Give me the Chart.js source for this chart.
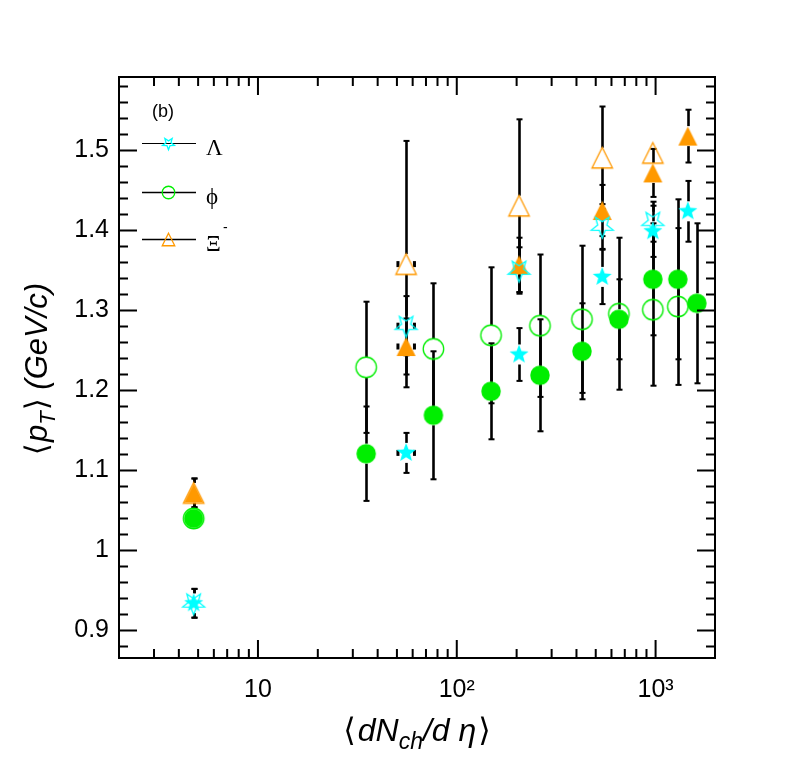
<!DOCTYPE html>
<html>
<head>
<meta charset="utf-8">
<script src="https://cdn.jsdelivr.net/npm/chart.js@4.4.0/dist/chart.umd.min.js"></script>
<style>html,body{margin:0;padding:0;background:#fff;}</style>
</head>
<body>
<canvas id="ptChart" width="796" height="774"></canvas>
<script>
// <pT> vs <dNch/deta>, open = legend species, filled = second set
const lambdaOpenX    = [4.75, 55.6, 205.6, 539, 969];
const lambdaOpenY    = [0.934, 1.281, 1.350, 1.405, 1.411];
const lambdaOpenErr  = [0.018, 0.037, 0.029, 0.028, 0.025];
const lambdaOpenXErr = [0, 5.3, 0, 0, 0];

const lambdaX    = [4.75, 55.6, 205.6, 539, 969, 1453];
const lambdaY    = [0.934, 1.122, 1.245, 1.342, 1.399, 1.424];
const lambdaErr  = [0.018, 0.025, 0.033, 0.034, 0.032, 0.038];
const lambdaXErr = [0, 5.3, 0, 0, 0, 0];

const phiOpenX   = [4.75, 35.0, 76.3, 148.7, 262.1, 426.3, 654, 969, 1294];
const phiOpenY   = [1.040, 1.229, 1.252, 1.269, 1.281, 1.289, 1.296, 1.301, 1.305];
const phiOpenErr = [0.008, 0.082, 0.082, 0.085, 0.089, 0.092, 0.095, 0.095, 0.098];

const phiX   = [4.75, 35.0, 76.3, 148.7, 262.1, 426.3, 654, 969, 1294, 1613];
const phiY   = [1.040, 1.121, 1.169, 1.199, 1.219, 1.249, 1.289, 1.339, 1.339, 1.309];
const phiErr = [0.008, 0.059, 0.080, 0.060, 0.070, 0.060, 0.050, 0.070, 0.100, 0.100];

const xiOpenX    = [4.75, 55.6, 205.6, 539, 969];
const xiOpenY    = [1.072, 1.358, 1.431, 1.491, 1.497];
const xiOpenErr  = [0.018, 0.154, 0.108, 0.064, 0.008];
const xiOpenXErr = [0, 5.3, 0, 0, 0];

const xiX    = [4.75, 55.6, 205.6, 539, 969, 1453];
const xiY    = [1.072, 1.255, 1.357, 1.425, 1.472, 1.518];
const xiErr  = [0.018, 0.035, 0.034, 0.032, 0.030, 0.033];
const xiXErr = [0, 5.3, 0, 0, 0, 0];

const yTicks = [0.9, 1.0, 1.1, 1.2, 1.3, 1.4, 1.5];
const xTicks = [10, 100, 1000];
const xTickLabels = ['10', '10\u00b2', '10\u00b3'];

const CYAN = '#00ffff', GREEN = '#00ee00', ORANGE = '#ff9900';
const SANS = '"Liberation Sans", Arial, sans-serif';
const SERIF = '"Liberation Serif", "DejaVu Serif", serif';

function tracePath(g, shape, cx, cy, s) {
  g.beginPath();
  if (shape === 'circle') {
    g.arc(cx, cy, s / 2, 0, Math.PI * 2);
  } else if (shape === 'triangle') {
    g.moveTo(cx, cy - s / 2);
    g.lineTo(cx + s / 2, cy + s / 2);
    g.lineTo(cx - s / 2, cy + s / 2);
    g.closePath();
  } else { // star, 'starUp' / 'starDown'
    const R = s / 2, r = R * 0.42;
    const a0 = shape === 'starUp' ? -Math.PI / 2 : Math.PI / 2;
    for (let i = 0; i < 10; i++) {
      const a = a0 + i * Math.PI / 5;
      const rr = i % 2 ? r : R;
      const px = cx + rr * Math.cos(a), py = cy + rr * Math.sin(a);
      if (i === 0) g.moveTo(px, py); else g.lineTo(px, py);
    }
    g.closePath();
  }
}

function drawMarker(g, shape, cx, cy, s, color, filled) {
  tracePath(g, shape, cx, cy, s);
  if (filled) {
    g.fillStyle = color;
    g.fill();
  } else {
    g.strokeStyle = color;
    g.lineWidth = 1.3;
    g.stroke();
  }
}

function markerCanvas(shape, color, filled, s) {
  const c = document.createElement('canvas');
  c.width = c.height = Math.ceil(s) + 4;
  drawMarker(c.getContext('2d'), shape, c.width / 2, c.height / 2, s, color, filled);
  return c;
}

function toPoints(xs, ys, es, xes) {
  return xs.map((x, i) => ({x: x, y: ys[i], e: es[i], xe: xes ? xes[i] : 0}));
}

function series(label, pts, shape, color, filled, size) {
  return {
    label: label,
    data: pts,
    pointStyle: markerCanvas(shape, color, filled, size),
    pointRadius: size / 2,
    showLine: false,
    shape: shape,
    color: color,
    filled: filled
  };
}

function drawRich(ctx, parts, x, y) {
  let w = 0;
  parts.forEach(p => { ctx.font = p.font; w += ctx.measureText(p.t).width + (p.sp || 0); });
  let cx = x - w / 2;
  parts.forEach(p => {
    ctx.font = p.font;
    ctx.fillText(p.t, cx, y + (p.dy || 0));
    cx += ctx.measureText(p.t).width + (p.sp || 0);
  });
}

const rootStyle = {
  id: 'rootStyle',
  beforeDatasetsDraw(chart) {
    const ctx = chart.ctx, xs = chart.scales.x, ys = chart.scales.y;
    const gap = 10;
    ctx.save();
    ctx.fillStyle = '#000';
    ctx.strokeStyle = '#000';
    ctx.lineWidth = 2.6;
    chart.data.datasets.forEach(ds => {
      ds.data.forEach(p => {
        const px = Math.round(xs.getPixelForValue(p.x)) + 0.5;
        const py = ys.getPixelForValue(p.y);
        const top = ys.getPixelForValue(p.y + p.e);
        const bot = ys.getPixelForValue(p.y - p.e);
        if (py - top > gap) {
          ctx.beginPath(); ctx.moveTo(px, top); ctx.lineTo(px, py - gap); ctx.stroke();
          ctx.fillRect(px - 3, top - 1, 6, 2);
        }
        if (bot - py > gap) {
          ctx.beginPath(); ctx.moveTo(px, py + gap); ctx.lineTo(px, bot); ctx.stroke();
          ctx.fillRect(px - 3, bot - 1, 6, 2);
        }
        if (p.xe) {
          const l = xs.getPixelForValue(p.x - p.xe), r = xs.getPixelForValue(p.x + p.xe);
          ctx.fillRect(l - 1, py - 3, 3, 6);
          ctx.fillRect(r - 1, py - 3, 3, 6);
        }
      });
    });
    ctx.restore();
  },
  afterDatasetsDraw(chart) {
    const ctx = chart.ctx, xs = chart.scales.x, ys = chart.scales.y;
    const a = chart.chartArea;
    ctx.save();
    ctx.strokeStyle = '#000';
    ctx.lineWidth = 2;
    ctx.strokeRect(a.left, a.top, a.right - a.left, a.bottom - a.top);

    // y ticks, both sides
    ctx.beginPath();
    for (let i = 43; i <= 79; i++) {
      const y = ys.getPixelForValue(i * 0.02);
      if (y < a.top + 1 || y > a.bottom - 1) continue;
      const len = i % 5 === 0 ? 18 : 9;
      ctx.moveTo(a.left, y); ctx.lineTo(a.left + len, y);
      ctx.moveTo(a.right, y); ctx.lineTo(a.right - len, y);
    }
    // x ticks, top and bottom
    [1, 10, 100, 1000].forEach(d => {
      for (let k = 1; k <= 9; k++) {
        const v = d * k;
        if (v <= xs.min || v >= xs.max) continue;
        const x = xs.getPixelForValue(v);
        const len = k === 1 ? 18 : 9;
        ctx.moveTo(x, a.bottom); ctx.lineTo(x, a.bottom - len);
        ctx.moveTo(x, a.top); ctx.lineTo(x, a.top + len);
      }
    });
    ctx.stroke();

    // legend
    const legendRows = [
      {ds: chart.data.datasets[0], y: 143, text: '\u039b'},
      {ds: chart.data.datasets[2], y: 192, text: '\u03d5'},
      {ds: chart.data.datasets[4], y: 239, text: '\u039e'}
    ];
    ctx.lineWidth = 1;
    ctx.fillStyle = '#000';
    legendRows.forEach(row => {
      ctx.strokeStyle = '#000';
      ctx.beginPath(); ctx.moveTo(142, row.y + 0.5); ctx.lineTo(196, row.y + 0.5); ctx.stroke();
      drawMarker(ctx, row.ds.shape, 168.5, row.y + 0.5, 12.5, row.ds.color, false);
      ctx.fillStyle = '#000';
      ctx.font = '23px ' + SERIF;
      ctx.textBaseline = 'alphabetic';
      ctx.fillText(row.text, 206, row.y + 12);
    });
    ctx.font = '14px ' + SANS;
    ctx.fillText('-', 223, 232);
    ctx.font = '18px ' + SANS;
    ctx.fillText('(b)', 152, 117);

    // axis titles
    ctx.textBaseline = 'alphabetic';
    drawRich(ctx, [
      {t: '\u27e8', font: '32px "DejaVu Sans"', sp: 2},
      {t: 'dN', font: 'italic 32px ' + SANS},
      {t: 'ch', font: 'italic 23px ' + SANS, dy: 8},
      {t: '/d ', font: 'italic 32px ' + SANS},
      {t: '\u03b7', font: 'italic 32px ' + SANS, sp: 2},
      {t: '\u27e9', font: '32px "DejaVu Sans"'}
    ], 417, 741);
    ctx.translate(47, 369);
    ctx.rotate(-Math.PI / 2);
    drawRich(ctx, [
      {t: '\u27e8', font: '31px "DejaVu Sans"', sp: 1},
      {t: 'p', font: 'italic 31px ' + SANS},
      {t: 'T', font: 'italic 22px ' + SANS, dy: 8, sp: 1},
      {t: '\u27e9', font: '31px "DejaVu Sans"'},
      {t: ' (GeV/c)', font: 'italic 31px ' + SANS}
    ], 0, 0);
    ctx.restore();
  }
};

const ctx = document.getElementById('ptChart').getContext('2d');

const ptChart = new Chart(ctx, {
  type: 'scatter',
  data: {
    datasets: [
      series('Lambda open', toPoints(lambdaOpenX, lambdaOpenY, lambdaOpenErr, lambdaOpenXErr), 'starDown', CYAN, false, 23),
      series('Lambda', toPoints(lambdaX, lambdaY, lambdaErr, lambdaXErr), 'starUp', CYAN, true, 20),
      series('phi open', toPoints(phiOpenX, phiOpenY, phiOpenErr), 'circle', GREEN, false, 20.5),
      series('phi', toPoints(phiX, phiY, phiErr), 'circle', GREEN, true, 19.5),
      series('Xi open', toPoints(xiOpenX, xiOpenY, xiOpenErr, xiOpenXErr), 'triangle', ORANGE, false, 20.5),
      series('Xi', toPoints(xiX, xiY, xiErr, xiXErr), 'triangle', ORANGE, true, 19)
    ]
  },
  options: {
    responsive: false,
    devicePixelRatio: 1,
    animation: false,
    layout: {padding: {top: 77, right: 81, left: 0, bottom: 0}},
    plugins: {legend: {display: false}, tooltip: {enabled: false}},
    scales: {
      x: {
        type: 'logarithmic',
        min: 2,
        max: 1990,
        grid: {display: false, drawTicks: false},
        border: {display: false},
        afterBuildTicks: s => { s.ticks = xTicks.map(v => ({value: v})); },
        afterFit: s => { s.height = 116; },
        ticks: {
          autoSkip: false,
          maxRotation: 0,
          padding: 17,
          color: '#000',
          font: {family: SANS, size: 25},
          callback: v => xTickLabels[xTicks.indexOf(v)]
        }
      },
      y: {
        type: 'linear',
        min: 0.8656,
        max: 1.5919,
        grid: {display: false, drawTicks: false},
        border: {display: false},
        afterBuildTicks: s => { s.ticks = yTicks.map(v => ({value: v})); },
        afterFit: s => { s.width = 119; },
        ticks: {
          autoSkip: false,
          padding: 10,
          color: '#000',
          font: {family: SANS, size: 25},
          callback: v => String(+v.toFixed(1))
        }
      }
    }
  },
  plugins: [rootStyle]
});
</script>
</body>
</html>
